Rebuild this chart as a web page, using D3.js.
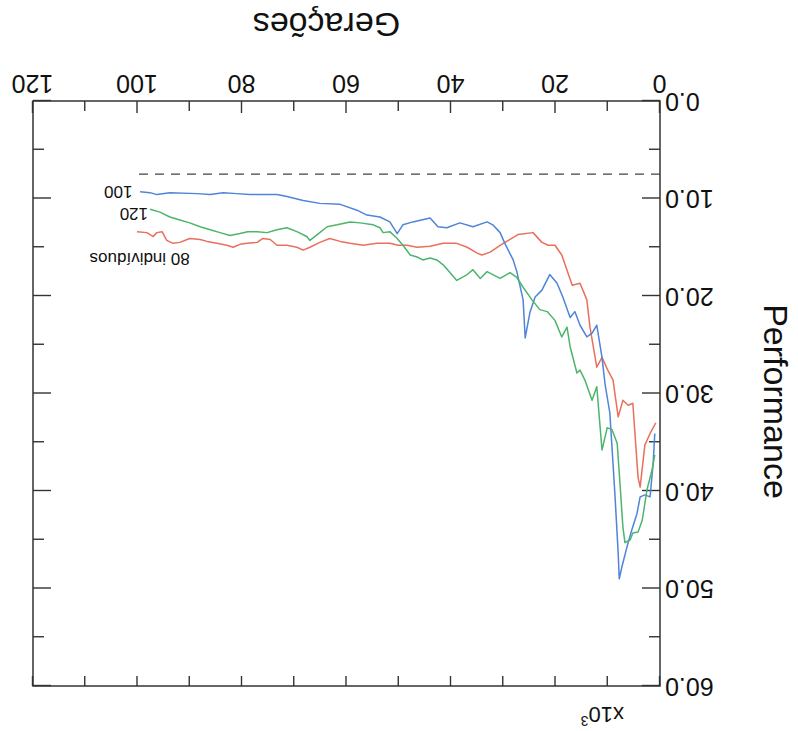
<!DOCTYPE html>
<html><head><meta charset="utf-8">
<script src="https://cdn.jsdelivr.net/npm/d3@7"></script>
<style>body{margin:0;background:#fff}svg{display:block}text{font-family:"Liberation Sans",Arial,sans-serif;fill:#111}</style>
</head><body>
<svg id="c" width="798" height="731"></svg>
<script>
const xTicks = [0,20,40,60,80,100,120];
const xMinor = [10,30,50,70,90,110];
const yTicks = [0,10,20,30,40,50,60];
const yMinor = [5,15,25,35,45,55];
const refLevel = 7.5;
const refRange = [0,100];

const gen80 = [100.1,98.2,97.0,96.3,95.3,94.4,93.2,91.9,90.0,88.0,86.7,84.8,82.9,81.7,80.4,79.0,77.1,76.0,74.6,73.3,71.4,69.5,68.3,67.0,65.1,63.2,61.2,59.3,56.8,54.2,51.7,50.1,48.4,46.5,44.0,41.5,38.9,36.9,35.0,34.1,32.5,30.6,28.7,27.2,24.3,22.6,21.4,20.1,18.8,16.8,15.3,14.0,13.4,12.1,11.1,10.0,9.0,8.0,7.1,6.1,5.2,4.2,3.8,2.9,1.9,0.8];
const perf80 = [13.4,13.5,13.9,13.5,13.4,14.3,14.6,14.5,14.1,14.2,14.4,14.6,14.8,15.0,14.7,14.6,14.5,14.1,14.2,14.8,14.8,15.0,15.3,15.0,14.5,14.1,14.4,14.6,14.8,14.6,14.6,14.8,14.8,15.0,14.9,14.6,14.6,15.0,15.6,15.8,15.5,14.8,14.2,13.7,13.5,14.5,14.8,14.8,15.8,18.9,18.7,20.4,23.2,27.3,26.3,27.6,28.6,32.4,30.7,31.2,31.0,38.6,39.6,35.3,34.1,33.0];

const gen100 = [99.5,97.6,96.3,93.8,88.6,86.1,83.6,81.0,78.5,73.3,71.4,68.3,65.1,61.2,58.0,56.1,53.6,51.7,50.3,49.2,47.3,44.0,42.5,40.8,38.3,35.8,33.1,32.0,30.6,29.7,28.1,27.4,26.2,25.8,24.9,23.9,22.6,21.1,19.7,18.6,17.2,16.3,15.3,14.0,13.0,12.1,11.1,10.5,9.6,9.0,8.6,8.0,7.8,7.3,6.3,5.4,4.4,3.8,2.9,1.9,1.3,1.0];
const perf100 = [9.3,9.4,9.6,9.4,9.5,9.6,9.4,9.5,9.6,9.6,9.8,10.2,10.5,10.6,11.2,11.7,11.9,12.4,13.6,12.7,12.4,12.0,12.9,13.0,12.5,12.9,12.4,12.7,13.5,14.6,16.3,17.5,20.4,24.3,21.7,20.1,19.4,17.8,18.7,20.1,22.2,21.6,23.0,24.2,23.8,23.0,26.3,29.1,32.0,37.1,40.6,46.4,49.0,47.8,45.7,44.0,42.3,40.6,40.4,40.6,37.1,34.1];

const gen120 = [97.6,95.7,93.8,91.9,90.0,88.0,86.1,84.2,82.3,80.4,78.9,77.1,75.2,73.3,71.4,69.5,67.6,67.0,65.6,63.7,61.8,59.3,57.4,54.9,53.6,53.0,51.7,50.3,49.2,47.8,46.5,45.4,44.0,42.7,41.5,40.2,38.9,36.9,35.8,34.4,33.1,32.0,30.6,28.7,27.4,26.2,24.5,23.0,21.6,20.1,18.8,17.8,17.2,15.9,15.3,14.4,13.0,12.1,11.1,10.1,9.2,8.2,7.7,7.1,6.7,5.7,5.2,4.2,3.4,2.5,1.5,1.0];
const perf120 = [11.1,11.4,11.9,12.2,12.5,12.9,13.2,13.5,13.8,13.6,13.4,13.4,13.5,13.2,13.0,13.4,13.9,14.3,13.7,12.9,12.7,12.4,12.5,12.7,13.0,13.5,13.4,14.1,14.8,15.8,16.0,16.3,16.1,16.3,16.8,17.6,18.4,17.8,17.3,18.2,17.5,17.8,18.2,17.6,18.1,19.1,20.4,21.4,21.6,22.5,24.2,23.2,25.2,27.9,27.6,28.6,30.7,29.3,35.8,33.5,33.7,35.1,38.9,43.7,45.3,45.0,44.3,44.2,43.0,39.9,37.8,36.3];

const seriesNames = ["80 indivíduos","100","120"];
const seriesColors = ["#e8705c","#4f84d8","#4db56b"];

const svg = d3.select("#c");
const g = svg.append("g").attr("transform","rotate(180 399 365.5)");

const L=138,R=765,T=45,B=630;
const x = d3.scaleLinear().domain([0,120]).range([L,R]);
const y = d3.scaleLinear().domain([0,60]).range([B,T]);

const axStyle = sel => { sel.select(".domain").remove(); sel.selectAll("line").attr("stroke","#333").attr("stroke-width",1.4); };

g.append("g").attr("transform",`translate(0,${B})`)
 .call(d3.axisBottom(x).tickValues(xTicks).tickFormat(d3.format("d")).tickSizeInner(-12).tickSizeOuter(0).tickPadding(8))
 .call(axStyle).selectAll("text").attr("font-size",25).style("fill","#111");
g.append("g").attr("transform",`translate(0,${B})`)
 .call(d3.axisBottom(x).tickValues(xMinor).tickFormat("").tickSizeInner(-10).tickSizeOuter(0)).call(axStyle);
g.append("g").attr("transform",`translate(0,${T})`)
 .call(d3.axisTop(x).tickValues(xTicks.concat(xMinor)).tickFormat("").tickSizeInner(-10).tickSizeOuter(0)).call(axStyle);
g.append("g").attr("transform",`translate(${L},0)`)
 .call(d3.axisLeft(y).tickValues(yTicks).tickFormat(d3.format(".1f")).tickSizeInner(-18).tickSizeOuter(0).tickPadding(5))
 .call(axStyle).selectAll("text").attr("font-size",25).style("fill","#111");
g.append("g").attr("transform",`translate(${L},0)`)
 .call(d3.axisLeft(y).tickValues(yMinor).tickFormat("").tickSizeInner(-11).tickSizeOuter(0)).call(axStyle);
g.append("g").attr("transform",`translate(${R},0)`)
 .call(d3.axisRight(y).tickValues(yTicks).tickFormat("").tickSizeInner(-18).tickSizeOuter(0)).call(axStyle);
g.append("g").attr("transform",`translate(${R},0)`)
 .call(d3.axisRight(y).tickValues(yMinor).tickFormat("").tickSizeInner(-11).tickSizeOuter(0)).call(axStyle);

g.append("rect").attr("x",L).attr("y",T).attr("width",R-L).attr("height",B-T)
 .attr("fill","none").attr("stroke","#333").attr("stroke-width",1.5);

g.append("line").attr("x1",x(refRange[0])).attr("x2",x(refRange[1]))
 .attr("y1",y(refLevel)).attr("y2",y(refLevel))
 .attr("stroke","#444").attr("stroke-width",1.3).attr("stroke-dasharray","9,7");

const line = d3.line().x(d=>x(d[0])).y(d=>y(d[1]));
const series = [[gen80,perf80],[gen100,perf100],[gen120,perf120]];
series.forEach((s,i)=>{
  const pts = s[0].map((v,j)=>[v,s[1][j]]);
  g.append("path").datum(pts).attr("d",line).attr("fill","none")
   .attr("stroke",seriesColors[i]).attr("stroke-width",1.5).attr("stroke-linejoin","round");
});

g.append("text").attr("x",x(90)).attr("y",y(15.6)).attr("font-size",17).text(seriesNames[0]);
g.append("text").attr("x",x(100)+5).attr("y",y(9.3)+6).attr("font-size",17).text(seriesNames[1]);
g.append("text").attr("x",x(97.6)+2).attr("y",y(11.1)+1).attr("font-size",17).text(seriesNames[2]);

g.append("text").attr("x",(L+R)/2+20).attr("y",718).attr("text-anchor","middle").attr("font-size",34).text("Gerações");
g.append("text").attr("transform",`translate(34,${(T+B)/2-8}) rotate(-90)`).attr("text-anchor","middle").attr("font-size",34).text("Performance");
const m = g.append("text").attr("x",174).attr("y",24).attr("font-size",22);
m.append("tspan").text("x10");
m.append("tspan").attr("font-size",14).attr("dy",-9).text("3");
</script>
</body></html>
